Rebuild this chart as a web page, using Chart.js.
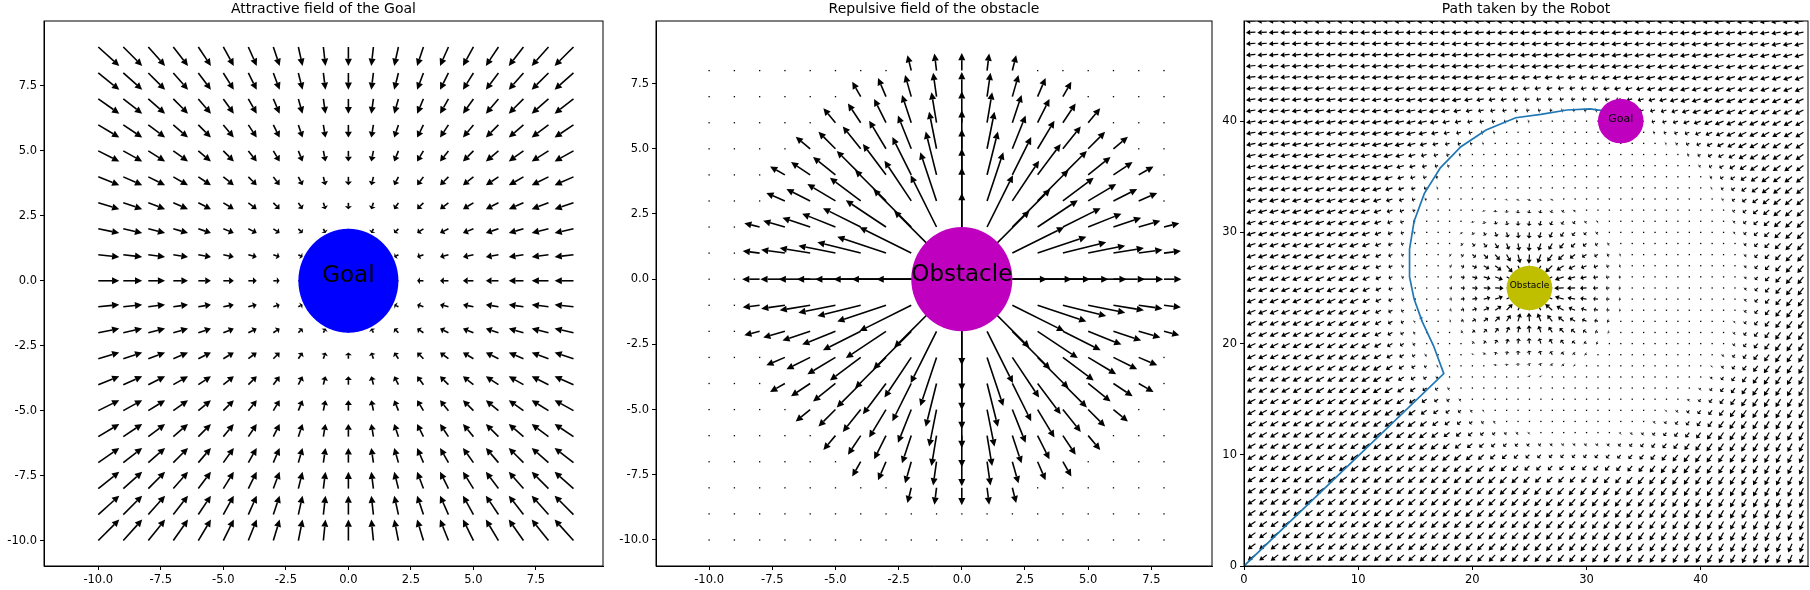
<!DOCTYPE html>
<html>
<head>
<meta charset="utf-8">
<script src="https://cdn.jsdelivr.net/npm/chart.js@4.4.1/dist/chart.umd.min.js"></script>
<style>
  body { margin: 0; background: #fff; width: 1810px; height: 590px; position: relative; overflow: hidden; }
  canvas { position: absolute; top: 0; }
</style>
</head>
<body>
<canvas id="c1" style="left:0px" width="612" height="590"></canvas>
<canvas id="c2" style="left:612px" width="612" height="590"></canvas>
<canvas id="c3" style="left:1200px" width="610" height="590"></canvas>
<script>
// panel data
const titles = ['Attractive field of the Goal', 'Repulsive field of the obstacle', 'Path taken by the Robot'];
const fieldTicks = [-10, -7.5, -5, -2.5, 0, 2.5, 5, 7.5];
const pathTicks = [0, 10, 20, 30, 40];
const goal1 = { x: 0, y: 0, r: 2, label: 'Goal', color: '#0000ff', font: 23 };
const obstacle2 = { x: 0, y: 0, r: 2, label: 'Obstacle', color: '#bf00bf', font: 23 };
const goal3 = { x: 33, y: 40, r: 2, label: 'Goal', color: '#bf00bf', font: 11 };
const obstacle3 = { x: 25, y: 25, r: 2, label: 'Obstacle', color: '#bfbf00', font: 9 };
const pathX = [0, 17.5, 16.6, 15.6, 14.9, 14.5, 14.5, 14.9, 15.8, 17.2, 19.0, 21.2, 23.8, 26.0, 28.3, 30.3, 31.7, 32.6];
const pathY = [0, 17.3, 19.8, 22.0, 24.0, 26.0, 28.5, 31.0, 33.5, 35.8, 37.7, 39.2, 40.3, 40.6, 41.0, 41.1, 40.9, 40.6];

// quiver field values (pixel-length vectors) per grid point
function attractField() {
  const pts = [];
  for (let x = -10; x <= 9; x++) for (let y = -10; y <= 9; y++) {
    const d = Math.hypot(x, y);
    const k = d < 2 ? 0 : 2.1;
    pts.push({ x, y, u: -x * k, v: -y * k });
  }
  return pts;
}
function repulseField() {
  const pts = [];
  for (let x = -10; x <= 8; x++) for (let y = -10; y <= 8; y++) {
    const d = Math.hypot(x, y);
    let L = 0;
    if (d > 0 && d <= 8.3) L = Math.min(7 * (10.5 - d), 60);
    pts.push({ x, y, u: d ? x / d * L : 0, v: d ? y / d * L : 0 });
  }
  return pts;
}
function pathField() {
  const pts = [];
  for (let x = 0; x <= 49; x++) for (let y = 0; y <= 49; y++) {
    const gx = x - 70, gy = y - 52, gd = Math.hypot(gx, gy) || 1;
    const cd = Math.hypot(x - 29, y - 26);
    const k = cd < 14 ? 0.6 : cd < 19 ? 0.6 + (cd - 14) * 1.8 : 9.5;
    let u = gx / gd * k, v = gy / gd * k;
    const ox = x - obstacle3.x, oy = y - obstacle3.y, od = Math.hypot(ox, oy);
    if (od > 0 && od < 9) {
      const s = (9 - od) * 1.5;
      u -= ox / od * s; v -= oy / od * s;
    }
    pts.push({ x, y, u, v });
  }
  return pts;
}

function drawArrow(ctx, px, py, u, v, w) {
  const L = Math.hypot(u, v);
  if (L < 1.2) { ctx.fillRect(px - 0.6, py - 0.6, 1.3, 1.3); return; }
  const ux = u / L, uy = -v / L;
  const hl = Math.min(L * 0.45, 4.5 * w), hw = 2.2 * w;
  const ex = px + ux * L, ey = py + uy * L;
  const bx = ex - ux * hl, by = ey - uy * hl;
  ctx.lineWidth = w;
  ctx.beginPath(); ctx.moveTo(px, py); ctx.lineTo(bx, by); ctx.stroke();
  ctx.beginPath();
  ctx.moveTo(ex, ey);
  ctx.lineTo(bx - uy * hw, by + ux * hw);
  ctx.lineTo(bx + uy * hw, by - ux * hw);
  ctx.closePath(); ctx.fill();
}

function makeChart(id, cfg) {
  const quiver = {
    id: 'quiver',
    afterDatasetsDraw(chart) {
      const { ctx, chartArea: a, scales: { x, y } } = chart;
      ctx.save();
      ctx.beginPath(); ctx.rect(a.left, a.top, a.right - a.left, a.bottom - a.top); ctx.clip();
      ctx.fillStyle = '#000'; ctx.strokeStyle = '#000';
      cfg.field.forEach(p => drawArrow(ctx, x.getPixelForValue(p.x), y.getPixelForValue(p.y), p.u, p.v, cfg.lw));
      if (cfg.path) {
        ctx.strokeStyle = '#1f77b4'; ctx.lineWidth = 1.7; ctx.beginPath();
        pathX.forEach((v, i) => {
          const px = x.getPixelForValue(v), py = y.getPixelForValue(pathY[i]);
          i ? ctx.lineTo(px, py) : ctx.moveTo(px, py);
        });
        ctx.stroke();
        ctx.fillStyle = '#1f77b4';
        drawArrow(ctx, x.getPixelForValue(pathX[3]), y.getPixelForValue(pathY[3]), -1.5, 5, 1);
      }
      cfg.circles.forEach(c => {
        const cx = x.getPixelForValue(c.x), cy = y.getPixelForValue(c.y);
        const rx = Math.abs(x.getPixelForValue(c.x + c.r) - cx), ry = Math.abs(y.getPixelForValue(c.y + c.r) - cy);
        ctx.fillStyle = c.color; ctx.beginPath(); ctx.ellipse(cx, cy, rx, ry, 0, 0, Math.PI * 2); ctx.fill();
        ctx.fillStyle = '#000'; ctx.font = c.font + 'px "DejaVu Sans"';
        ctx.textAlign = 'center'; ctx.textBaseline = 'middle';
        ctx.fillText(c.label, cx, cy - 4 * c.font / 20);
      });
      ctx.restore();
      ctx.save();
      ctx.strokeStyle = '#000'; ctx.lineWidth = 1;
      ctx.strokeRect(a.left, a.top, a.right - a.left, a.bottom - a.top);
      ctx.fillStyle = '#000'; ctx.font = '14px "DejaVu Sans"'; ctx.textAlign = 'center'; ctx.textBaseline = 'bottom';
      ctx.fillText(cfg.title, (a.left + a.right) / 2, a.top - 5);
      ctx.restore();
    }
  };
  const axis = (min, max, ticks, fmt, fitSize, horiz) => ({
    type: 'linear', min, max,
    afterBuildTicks: s => { s.ticks = ticks.map(v => ({ value: v })); },
    afterFit: s => { if (horiz) s.height = fitSize; else s.width = fitSize; },
    grid: { drawOnChartArea: false, drawTicks: true, tickLength: 4, color: '#000' },
    border: { color: '#000' },
    ticks: { color: '#000', font: { size: 11.5, family: 'DejaVu Sans' }, padding: 3, callback: fmt, autoSkip: false, maxRotation: 0 }
  });
  return new Chart(document.getElementById(id), {
    type: 'scatter',
    data: { datasets: [{ data: [] }] },
    options: {
      responsive: false, animation: false,
      layout: { padding: { top: 21, right: cfg.padR, left: 0, bottom: 0 } },
      plugins: { legend: { display: false }, tooltip: { enabled: false } },
      scales: {
        x: axis(cfg.xr[0], cfg.xr[1], cfg.ticks, cfg.fmt, 24, true),
        y: axis(cfg.yr[0], cfg.yr[1], cfg.ticks, cfg.fmt, 44, false)
      }
    },
    plugins: [quiver]
  });
}

const fmt1 = v => v.toFixed(1);
makeChart('c1', { title: titles[0], field: attractField(), circles: [goal1], lw: 1.6,
  xr: [-12.17, 10.18], yr: [-10.98, 10.0], ticks: fieldTicks, fmt: fmt1, padR: 9 });
makeChart('c2', { title: titles[1], field: repulseField(), circles: [obstacle2], lw: 1.6,
  xr: [-12.1, 9.9], yr: [-11.0, 9.9], ticks: fieldTicks, fmt: fmt1, padR: 12 });
makeChart('c3', { title: titles[2], field: pathField(), circles: [goal3, obstacle3], lw: 1.2, path: true,
  xr: [0, 49.4], yr: [0, 49.0], ticks: pathTicks, fmt: v => String(v), padR: 2 });
</script>
</body>
</html>
